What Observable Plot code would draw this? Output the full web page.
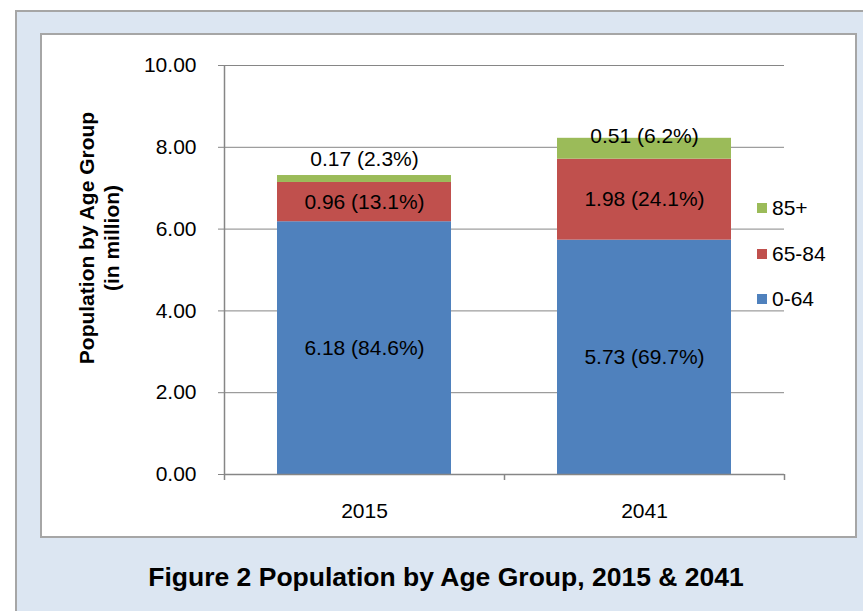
<!DOCTYPE html>
<html>
<head>
<meta charset="utf-8">
<script src="https://cdn.jsdelivr.net/npm/d3@7"></script>
<script src="https://cdn.jsdelivr.net/npm/@observablehq/plot@0.6"></script>
<style>
  body { margin: 0; background: #ffffff; font-family: "Liberation Sans", Arial, sans-serif; }
  #wrap { position: relative; width: 863px; height: 611px; overflow: hidden; }
  #outer { position: absolute; left: 15px; top: 10px; width: 900px; height: 700px; background: #dce6f2; border: 2px solid #a6a6a6; box-sizing: border-box; }
  #inner { position: absolute; left: 40px; top: 33px; width: 817px; height: 505px; background: #ffffff; border: 2px solid #a6a6a6; box-sizing: border-box; }
  #chart { position: absolute; left: 0; top: 0; }
  #ytitle { position: absolute; left: -51.5px; top: 213px; width: 300px; height: 50px; line-height: 25px; font-size: 21px; font-weight: bold; text-align: center; color: #000; transform: rotate(-90deg); white-space: nowrap; }
  #title { position: absolute; left: 0; top: 562px; width: 892px; text-align: center; font-size: 26.5px; line-height: 30px; font-weight: bold; color: #000; }
  .lg { position: absolute; left: 757px; height: 24px; display: flex; align-items: center; font-size: 21px; color: #000; white-space: nowrap; }
  .lg span.sw { display: inline-block; width: 10px; height: 10px; margin-right: 5px; }
</style>
</head>
<body>
<div id="wrap">
  <div id="outer"></div>
  <div id="inner"></div>
  <div id="chart"></div>
  <div id="ytitle">Population by Age Group<br>(in million)</div>
  <div id="legend"></div>
  <div id="title">Figure 2 Population by Age Group, 2015 &amp; 2041</div>
</div>
<script>
// ---- data ----
const years = ["2015", "2041"];
const groups = ["0-64", "65-84", "85+"];
const values2015 = [6.18, 0.96, 0.17];
const values2041 = [5.73, 1.98, 0.51];
const shares2015 = [84.6, 13.1, 2.3];
const shares2041 = [69.7, 24.1, 6.2];
const yTicks = [0, 2, 4, 6, 8, 10];
const groupColors = ["#4f81bd", "#c0504d", "#9bbb59"];

// ---- table built from the arrays ----
const rows = [];
years.forEach((yr, yi) => {
  const vals = yi === 0 ? values2015 : values2041;
  const sh = yi === 0 ? shares2015 : shares2041;
  groups.forEach((g, gi) => {
    rows.push({year: yr, group: g, value: vals[gi], share: sh[gi],
      label: `${vals[gi].toFixed(2)} (${sh[gi].toFixed(1)}%)`});
  });
});

const W = 863, H = 611;
const mL = 224, mR = 79, mT = 65, mB = 137;
const step = (W - mL - mR) / years.length;
const axisGray = "#868686";
const topGroup = groups[groups.length - 1];

const chart = Plot.plot({
  width: W,
  height: H,
  marginLeft: mL,
  marginRight: mR,
  marginTop: mT,
  marginBottom: mB,
  style: {fontFamily: "'Liberation Sans', Arial, sans-serif", fontSize: "21px", background: "transparent", color: "#000", overflow: "visible"},
  x: {domain: years, paddingInner: 0.38, paddingOuter: 0.19},
  y: {domain: [0, 10]},
  color: {domain: groups, range: groupColors},
  marks: [
    Plot.ruleY(yTicks.filter(d => d > 0), {stroke: axisGray, strokeWidth: 1}),
    Plot.barY(rows, {x: "year", y: "value", fill: "group"}),
    Plot.ruleY([0], {stroke: axisGray, strokeWidth: 1.5}),
    // y axis line (left boundary of the first category)
    Plot.ruleX(years.slice(0, 1), {x: d => d, y1: 10, y2: 0, dx: -step / 2, insetBottom: -6, stroke: axisGray, strokeWidth: 1.5}),
    // category boundary ticks
    Plot.ruleX(years, {x: d => d, y1: 0, y2: 0, dx: step / 2, insetBottom: -6, stroke: axisGray, strokeWidth: 1.5}),
    Plot.axisY(yTicks, {tickSize: 6, tickPadding: 22, tickFormat: d3.format(".2f"), stroke: axisGray, fill: "#000", fontSize: 21, label: null}),
    Plot.axisX({tickSize: 0, tickPadding: 29, fill: "#000", fontSize: 21, label: null}),
    // labels inside the two lower segments
    Plot.text(rows, Plot.stackY({x: "year", y: "value", z: "group",
      text: d => d.group === topGroup ? null : d.label, fill: "#000", fontSize: 21})),
    // labels for the top segment
    Plot.text(rows, Plot.stackY2({x: "year", y: "value", z: "group",
      text: d => (d.group === topGroup && d.year === years[0]) ? d.label : null, dy: -16, fill: "#000", fontSize: 21})),
    Plot.text(rows, Plot.stackY2({x: "year", y: "value", z: "group",
      text: d => (d.group === topGroup && d.year === years[1]) ? d.label : null, dy: -2, fill: "#000", fontSize: 21}))
  ]
});
document.getElementById("chart").appendChild(chart);

// ---- legend (top group first) ----
const legend = document.getElementById("legend");
const legendCenters = [208, 253.5, 298.5];
groups.slice().reverse().forEach((g, i) => {
  const item = document.createElement("div");
  item.className = "lg";
  item.style.top = (legendCenters[i] - 12) + "px";
  const sw = document.createElement("span");
  sw.className = "sw";
  sw.style.background = groupColors[groups.indexOf(g)];
  item.appendChild(sw);
  item.appendChild(document.createTextNode(g));
  legend.appendChild(item);
});
</script>
</body>
</html>
